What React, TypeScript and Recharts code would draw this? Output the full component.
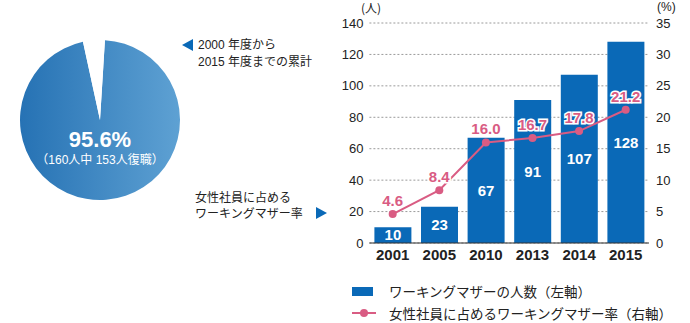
import React from 'react'
import { ComposedChart, Bar, Line, XAxis, YAxis, CartesianGrid, LabelList, PieChart, Pie, Cell } from 'recharts'

const years = ['2001', '2005', '2010', '2013', '2014', '2015']
const workingMothers = [10, 23, 67, 91, 107, 128]
const motherRatio = [4.6, 8.4, 16.0, 16.7, 17.8, 21.2]
const leftTicks = [0, 20, 40, 60, 80, 100, 120, 140]
const rightTicks = [0, 5, 10, 15, 20, 25, 30, 35]
const returnShare = [95.6, 4.4]

const BLUE = '#0a69b7'
const PINK = '#d95c83'
const FONT = '"Liberation Sans", Arial, "Noto Sans CJK JP", sans-serif'
const JP = '"Noto Sans CJK JP", "Liberation Sans", sans-serif'

const data = years.map((year, i) => ({
  year,
  count: workingMothers[i],
  ratio: motherRatio[i],
}))

const pieData = returnShare.map((value, i) => ({ name: i === 0 ? '復職' : 'その他', value }))

// small helper for absolutely placed text lines (y = vertical center)
function Txt({ x, y, size = 12, font = FONT, children }: { x: number; y: number; size?: number; font?: string; children: React.ReactNode }) {
  return (
    <div
      style={{
        position: 'absolute',
        left: x,
        top: y - 10,
        height: 20,
        lineHeight: '20px',
        fontSize: size,
        fontFamily: font,
        color: '#222',
        whiteSpace: 'nowrap',
      }}
    >
      {children}
    </div>
  )
}

export default function App() {
  return (
    <div style={{ position: 'absolute', left: 0, top: 0, width: 690, height: 323, background: '#fff', overflow: 'hidden' }}>
      {/* pie */}
      <div style={{ position: 'absolute', left: 0, top: 0 }}>
        <PieChart width={200} height={240} margin={{ top: 0, right: 0, bottom: 0, left: 0 }}>
          <defs>
            <linearGradient id="pieGrad" x1="0" y1="0" x2="1" y2="0">
              <stop offset="0%" stopColor="#2672b4" />
              <stop offset="100%" stopColor="#5ea1d3" />
            </linearGradient>
          </defs>
          <Pie
            data={pieData}
            dataKey="value"
            cx={100}
            cy={120}
            innerRadius={0}
            outerRadius={80}
            startAngle={102.3}
            endAngle={462.3}
            stroke="none"
            isAnimationActive={false}
          >
            <Cell fill="url(#pieGrad)" />
            <Cell fill="#ffffff" />
          </Pie>
        </PieChart>
      </div>
      <div style={{ position: 'absolute', left: 20, top: 126, width: 160, textAlign: 'center', color: '#fff', fontFamily: FONT, fontWeight: 'bold', fontSize: 22, lineHeight: '28px' }}>
        95.6%
      </div>
      <div style={{ position: 'absolute', left: 20, top: 150, width: 160, textAlign: 'center', color: '#fff', fontFamily: FONT, fontSize: 12, lineHeight: '20px' }}>
        （160人中 153人復職）
      </div>

      {/* annotations */}
      <svg style={{ position: 'absolute', left: 0, top: 0 }} width={690} height={323}>
        <polygon points="182,45 193,39 193,51" fill={BLUE} />
        <polygon points="327,213 316,207 316,219" fill={BLUE} />
      </svg>
      <Txt x={198} y={45}>2000 年度から</Txt>
      <Txt x={198} y={62}>2015 年度までの累計</Txt>
      <Txt x={195} y={198}>女性社員に占める</Txt>
      <Txt x={195} y={214}>ワーキングマザー率</Txt>

      {/* bar + line chart */}
      <div style={{ position: 'absolute', left: 330, top: 0 }}>
        <ComposedChart width={360} height={280} data={data} margin={{ top: 23, right: 0, bottom: 0, left: 0 }}>
          <CartesianGrid vertical={false} stroke="#9a9a9a" strokeDasharray="2 2" yAxisId="left" />
          <XAxis
            dataKey="year"
            height={37}
            axisLine={{ stroke: '#333', strokeWidth: 1 }}
            tickLine={false}
            tickSize={0}
            tickMargin={6}
            tick={{ fill: '#222', fontSize: 15, fontWeight: 'bold', fontFamily: FONT }}
          />
          <YAxis
            yAxisId="left"
            orientation="left"
            width={39.4}
            domain={[0, 140]}
            ticks={leftTicks}
            axisLine={false}
            tickLine={false}
            tickSize={0}
            tickMargin={6}
            tick={{ fill: '#222', fontSize: 13, fontFamily: FONT }}
          />
          <YAxis
            yAxisId="right"
            orientation="right"
            width={41}
            domain={[0, 35]}
            ticks={rightTicks}
            axisLine={false}
            tickLine={false}
            tickSize={0}
            tickMargin={7}
            tick={{ fill: '#222', fontSize: 13, fontFamily: FONT }}
          />
          <Bar yAxisId="left" dataKey="count" fill={BLUE} barSize={37} isAnimationActive={false}>
            <LabelList dataKey="count" position="center" fill="#fff" fontSize={15} fontWeight="bold" fontFamily={FONT} />
          </Bar>
          <Line
            yAxisId="right"
            dataKey="ratio"
            stroke={PINK}
            strokeWidth={2}
            dot={{ r: 4, fill: PINK, stroke: 'none' }}
            isAnimationActive={false}
          >
            <LabelList
              dataKey="ratio"
              position="top"
              offset={8}
              formatter={(v: number) => v.toFixed(1)}
              fill={PINK}
              stroke="#fff"
              strokeWidth={3}
              paintOrder="stroke"
              fontSize={15}
              fontWeight="bold"
              fontFamily={FONT}
            />
          </Line>
        </ComposedChart>
      </div>
      <div style={{ position: 'absolute', left: 345, top: 1, width: 36, textAlign: 'right', fontFamily: JP, fontSize: 12, lineHeight: '13px', color: '#222' }}>(人)</div>
      <div style={{ position: 'absolute', left: 657, top: 1, fontFamily: FONT, fontSize: 12, lineHeight: '13px', color: '#222' }}>(%)</div>

      {/* legend */}
      <svg style={{ position: 'absolute', left: 0, top: 0 }} width={690} height={323}>
        <rect x={352} y={287} width={21} height={9} fill={BLUE} />
        <line x1={352} y1={313} x2={376} y2={313} stroke={PINK} strokeWidth={2} />
        <circle cx={364} cy={313} r={4} fill={PINK} />
      </svg>
      <Txt x={389} y={291} size={13.5} font={JP}>ワーキングマザーの人数（左軸）</Txt>
      <Txt x={389} y={313} size={13.5} font={JP}>女性社員に占めるワーキングマザー率（右軸）</Txt>
    </div>
  )
}
